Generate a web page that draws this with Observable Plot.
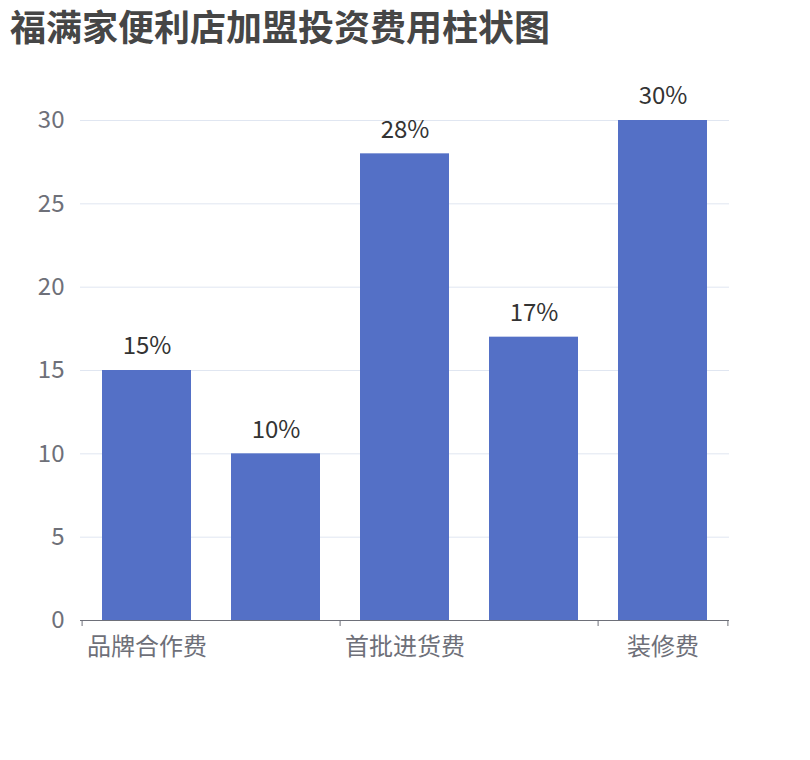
<!DOCTYPE html>
<html>
<head>
<meta charset="utf-8">
<script src="https://cdn.jsdelivr.net/npm/d3@7"></script>
<script src="https://cdn.jsdelivr.net/npm/@observablehq/plot@0.6"></script>
<style>
  html, body { margin: 0; padding: 0; background: #fff; }
  #wrap { position: relative; width: 810px; height: 760px; }
  #title {
    position: absolute; left: 10px; top: 7px; margin: 0;
    font-family: "Noto Sans CJK SC", sans-serif; font-weight: bold;
    font-size: 36px; line-height: 36px; color: #464646; white-space: nowrap;
  }
</style>
</head>
<body>
<div id="wrap">
  <div id="title">福满家便利店加盟投资费用柱状图</div>
</div>
<script>
const categories = ["品牌合作费", "加盟管理费", "首批进货费", "设备购置费", "装修费"];
const values = [15, 10, 28, 17, 30];
const yTicks = [0, 5, 10, 15, 20, 25, 30];
const shownLabels = ["品牌合作费", "首批进货费", "装修费"];

const data = categories.map((name, i) => ({name, value: values[i]}));

const W = 810, H = 760;
const mL = 80, mR = 81, mT = 120, mB = 140;
const step = (W - mL - mR) / categories.length;
const font = '"Noto Sans CJK SC", "Noto Sans", sans-serif';

const bounds = [categories[0], categories[2], categories[4]];
const lastCat = [categories[categories.length - 1]];

const chart = Plot.plot({
  width: W,
  height: H,
  marginLeft: mL,
  marginRight: mR,
  marginTop: mT,
  marginBottom: mB,
  style: {fontFamily: font, background: "#fff"},
  x: {domain: categories, paddingInner: 0.31, paddingOuter: 0.155},
  y: {domain: [0, 30]},
  marks: [
    Plot.ruleY(yTicks.filter(t => t > 0), {stroke: "#E0E6F1", strokeWidth: 1}),
    Plot.barY(data, {x: "name", y: "value", fill: "#5470c6", inset: 0}),
    Plot.ruleY([0], {stroke: "#6E7079", strokeWidth: 1}),
    Plot.ruleX(bounds, {x: d => d, y1: 0, y2: 0, dx: -step / 2, insetBottom: -6, stroke: "#6E7079"}),
    Plot.ruleX(lastCat, {x: d => d, y1: 0, y2: 0, dx: step / 2, insetBottom: -6, stroke: "#6E7079"}),
    Plot.axisY({ticks: yTicks, tickSize: 0, tickPadding: 16, fontSize: 24, color: "#6E7079", label: null}),
    Plot.axisX({ticks: shownLabels, tickSize: 0, tickPadding: 17, fontSize: 24, color: "#6E7079", label: null}),
    Plot.text(data, {x: "name", y: "value", text: d => d.value + "%", dy: -24, fontSize: 24, fill: "#333"})
  ]
});
document.getElementById("wrap").prepend(chart);
</script>
</body>
</html>
